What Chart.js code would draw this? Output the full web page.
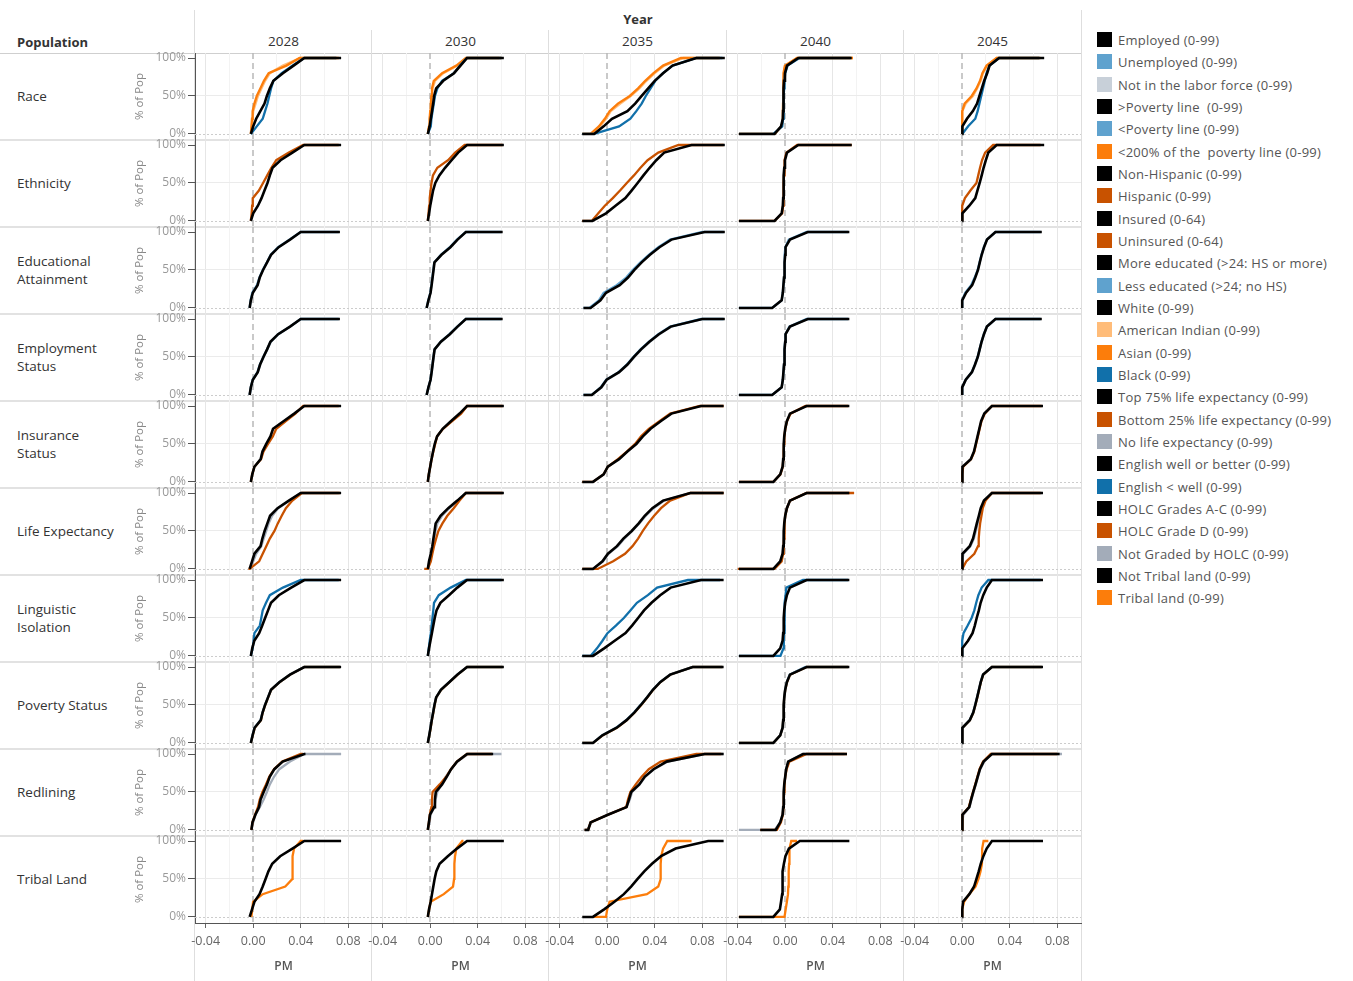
<!DOCTYPE html>
<html>
<head>
<meta charset="utf-8">
<title>PM by population and year</title>
<script src="https://cdn.jsdelivr.net/npm/chart.js@4.4.0/dist/chart.umd.min.js"></script>
<style>
  body { margin: 0; background: #fff; font-family: "Open Sans", sans-serif; }
  #wrap { position: relative; width: 1353px; height: 981px; overflow: hidden; }
  #wrap canvas { position: absolute; }
  .txt { position: absolute; color: #333; font-size: 13.5px; white-space: pre; }
  .hline, .vline { position: absolute; background: #dedede; }
  .leg { position: absolute; left: 1097px; height: 16px; font-size: 13px; letter-spacing: 0.25px; color: #555; white-space: pre; line-height: 16px; }
  .leg i { display: inline-block; width: 15px; height: 15px; vertical-align: top; margin-right: 6px; }
</style>
</head>
<body>
<div id="wrap"></div>
<script>
// ==========================
// CDF of PM change, by population group and year
// ==========================

const YEARS = ['2028', '2030', '2035', '2040', '2045'];
// share of population (y) for every value in a curve row
const LEVELS = [0, 0, 0.1, 0.2, 0.3, 0.4, 0.5, 0.6, 0.7, 0.8, 0.9, 1, 1];
const X_TICKS = [-0.04, -0.02, 0, 0.02, 0.04, 0.06, 0.08];
const Y_TICKS = [0, 0.5, 1];

// PM values (x 1000), one curve per year: start, leaves 0%, 10% .. 90%, reaches 100%, end
const white = [
  [-2, -2, 0, 2.5, 6, 9.5, 11.5, 14, 17, 25, 34, 43, 74],
  [-2, -2, -0.5, 0.5, 1.5, 2.5, 3.3, 5, 11, 20, 25.5, 31, 62],
  [-21, -11, -3, 4, 17, 23.5, 29, 34.5, 40, 47, 55, 75, 99],
  [-39, -9, -3.5, -2, -1.8, -1.6, -1.4, -1.2, -1, -0.2, 1.5, 11, 56],
  [0, 0, 0.3, 4, 9, 12.5, 14.5, 16.5, 18.5, 21, 23, 31, 69]
];
const americanIndian = [
  [-2, -2, -1, -0.5, 0, 2, 4, 7, 10, 14, 25, 40, 70],
  [-2, -2, -1, -0.3, 0.3, 0.8, 1.3, 2, 4, 11, 23, 31, 58],
  [-21, -13, -6, -1, 3, 11, 20, 27, 33, 40, 48, 64, 94],
  [-39, -9, -3, -2, -1.9, -1.8, -1.6, -1.5, -1.3, -1, 0, 10, 57],
  [0, 0, 0, 0, 0.5, 3, 9, 12.5, 15.5, 17.5, 21, 29, 66]
];
const asian = [
  [-2, -2, -1.5, -1, -0.5, 1, 3, 6, 9, 13, 28, 39, 72],
  [-2, -2, -1, -0.5, 0, 0.5, 1, 1.5, 3, 10, 22, 30, 60],
  [-21, -14, -7, -2, 2, 9, 19, 26, 32, 39, 47, 62, 95],
  [-39, -9, -3, -2, -1.9, -1.8, -1.7, -1.6, -1.4, -1.1, -0.3, 10, 57],
  [0, 0, 0, 0, 0, 2, 8, 12, 15, 17, 20.5, 29, 65]
];
const blackPop = [
  [-2, -2, 3, 8, 10, 12, 13.5, 15, 17, 24, 33, 43, 70],
  [-2, -2, 0.5, 1, 2, 3, 4, 6, 10, 20, 25, 31, 60],
  [-21, -11, 10, 19.5, 24.5, 29, 32.5, 36.5, 40.5, 47, 55, 75, 97],
  [-39, -10, -2.5, -1.8, -1.5, -1.3, -1.1, -0.9, -0.6, 0, 2, 12, 55],
  [0, 0, 5, 11, 13, 14.5, 16, 17.5, 19, 20.5, 23, 31, 65]
];

const nonHispanic = [
  [-2, -2, 0, 4, 7, 9.5, 12, 14, 16.3, 23, 33, 43, 74],
  [-2, -2, -1, 0, 1.2, 2.4, 4.3, 7.7, 12.5, 18, 23.5, 31, 62],
  [-21, -12.5, -1, 7, 15.3, 20.5, 25.6, 30.5, 35.7, 41.3, 48, 71, 99],
  [-39, -9, -3, -2, -1.7, -1.5, -1.3, -1.1, -0.8, -0.2, 1.5, 11, 56],
  [0, 0, 0.3, 6, 11, 12.8, 14.7, 16.4, 18, 19.9, 22, 29, 69]
];
const hispanic = [
  [-2, -2, -1.3, -0.9, -0.4, 4.8, 8.3, 11.8, 15.3, 19.4, 30, 42, 72],
  [-2, -2, -1.4, -0.9, -0.4, 0.3, 1.1, 2.3, 6, 15, 21, 29, 61],
  [-21, -13, -7.5, -2, 4.7, 10.8, 16.5, 22.5, 28, 34, 43, 60, 98],
  [-39, -9, -2.5, -1.8, -1.5, -1.4, -1.2, -1, -0.8, -0.3, 1, 10, 56],
  [0, 0, 0, 0, 2.3, 6.9, 12, 13.5, 15, 16.7, 19.3, 26, 66]
];

const moreEducated = [
  [-3, -3, -2, -0.3, 3.7, 5.5, 8.3, 11.7, 15, 21.4, 31, 40, 73],
  [-3, -3, -1.5, 0.3, 1.2, 2, 2.8, 3.6, 9.5, 17, 23, 30, 61],
  [-20, -14, -5.7, -1, 10.5, 17.5, 22.9, 29, 36, 44, 54, 82, 99],
  [-39, -11, -3, -2, -1.5, -1, -0.7, -0.4, 0, 0.3, 4, 19, 54],
  [0, 0, 0, 3.3, 8.4, 11, 13.3, 14.8, 16.4, 18.4, 20.9, 28, 67]
];
const lessEducated = [
  [-3, -3, -2.2, -0.8, 3.2, 5.2, 8, 11.5, 14.8, 21, 30.5, 40, 72],
  [-3, -3, -1.6, 0.1, 1, 1.8, 2.6, 3.4, 9, 16.5, 22.5, 30, 60],
  [-20, -15, -7, -3, 8, 16, 21.5, 28, 35, 43, 53, 80, 98],
  [-39, -11, -3, -2, -1.5, -1, -0.7, -0.5, -0.2, 0.1, 3, 18, 53],
  [0, 0, 0, 2.5, 7.5, 10.5, 13, 14.6, 16.2, 18.2, 20.7, 28, 66]
];

const employed = [
  [-3, -3, -2, -0.3, 3.8, 5.8, 8.6, 11.7, 14.5, 21, 31, 40, 73],
  [-3, -3, -1.5, 0.3, 1.2, 2, 2.8, 3.7, 9, 16.5, 23, 30, 61],
  [-20, -13, -5, -0.5, 10, 17, 22.5, 28.5, 35.5, 43.5, 53.5, 80, 99],
  [-39, -11, -3, -2, -1.5, -1, -0.7, -0.4, 0, 0.3, 4, 19, 54],
  [0, 0, 0, 3, 8.2, 10.8, 13.1, 14.7, 16.3, 18.3, 20.8, 28, 67]
];
const unemployed = [
  [-3, -3, -2, -0.5, 3.6, 5.6, 8.5, 11.6, 14.6, 21, 31, 40, 72],
  [-3, -3, -1.5, 0.2, 1.1, 1.9, 2.7, 3.6, 8.8, 16.2, 22.8, 30, 60],
  [-20, -13, -5.5, -1, 9.5, 16.5, 22, 28, 35, 43, 53, 79, 98],
  [-39, -11, -3, -2, -1.5, -1, -0.7, -0.45, -0.1, 0.2, 3.5, 18, 53],
  [0, 0, 0, 2.8, 8, 10.6, 13, 14.6, 16.2, 18.2, 20.7, 28, 66]
];
const notInLabor = [
  [-3, -3, -2, -0.2, 4, 6, 8.8, 11.9, 15, 21.3, 31, 40, 72],
  [-3, -3, -1.4, 0.4, 1.3, 2.1, 2.9, 3.8, 9.2, 16.8, 23, 30, 60],
  [-20, -13, -4.5, 0, 10.5, 17.5, 23, 29, 36, 44, 54, 80, 98],
  [-39, -11, -3, -2, -1.5, -1, -0.7, -0.4, 0, 0.3, 4, 19, 53],
  [0, 0, 0, 3.2, 8.4, 11, 13.3, 14.8, 16.4, 18.4, 21, 28, 66]
];

const insured = [
  [-2, -2, -0.8, 1, 6.3, 7.8, 11, 14.5, 16.7, 25.5, 34.5, 43, 74],
  [-2, -2, -1.2, 0, 1.1, 2.4, 3.8, 5.8, 10.5, 17.4, 24.7, 31, 62],
  [-21, -12, -3, 0.5, 10, 17, 24.5, 30, 36.5, 45, 54, 79, 98],
  [-39, -10, -4.2, -2.2, -1.7, -1.4, -1.1, -0.8, 0, 1.4, 4, 18, 54],
  [0, 0, 0, 0.6, 7.2, 9.9, 11.4, 12.9, 14.4, 15.9, 18.6, 25, 68]
];
const uninsured = [
  [-2, -2, -0.8, 1, 6.6, 8.6, 12.5, 16.5, 19.4, 27.5, 35.5, 42, 72],
  [-2, -2, -1.2, 0, 1.2, 2.6, 4.2, 5.8, 10.8, 18.5, 26, 31, 61],
  [-21, -12, -3, 0.5, 9, 16.5, 23.5, 28.5, 35, 44, 53, 78, 98],
  [-39, -10, -4, -2.1, -1.6, -1.3, -1, -0.7, 0.1, 1.5, 4.5, 17, 53],
  [0, 0, 0, 0.8, 7.5, 10.2, 11.7, 13.2, 14.7, 16.2, 19, 25, 67]
];

const top75 = [
  [-3, -3, -1, 1, 6.2, 7.7, 9.6, 11.9, 14.2, 20.5, 30, 40, 74],
  [-2, -2, -1, 0.5, 1.8, 2.7, 3.7, 4.6, 8.7, 15.2, 22.8, 30, 62],
  [-21, -12, -4, 0.6, 8.2, 13.6, 20.6, 26.5, 31.6, 38, 47, 70, 98],
  [-39, -10, -4.2, -2.2, -1.7, -1.4, -1.1, -0.8, 0, 1.4, 4, 18, 54],
  [0, 0, 0, 0.6, 6.3, 9.1, 10.7, 12.3, 14, 15.6, 18.3, 25, 68]
];
const bottom25 = [
  [-4, -3, 5, 8, 11, 14, 17.9, 20.7, 24, 27.5, 33, 41, 73],
  [-5, -2, 0.5, 1.8, 3.2, 5, 6.9, 10.3, 14.4, 19.8, 24.7, 30, 61],
  [-21, -8, 5, 15, 21.3, 26, 30, 34.4, 39.5, 45.3, 53, 70, 98],
  [-40, -9, -3, -1.8, -1.3, -1, -0.7, -0.4, 0, 1.5, 4, 18, 58],
  [0, 0, 3.4, 10.2, 13.3, 13.9, 14.4, 15.1, 16.2, 17.3, 19.7, 25, 66]
];
const noLife = [
  [-3, -3, 0, 2.5, 6.8, 8.8, 11, 13, 16, 21, 30.5, 40, 72],
  [-2, -2, -0.6, 0.8, 2.2, 3.3, 4.5, 6, 10, 16, 23.5, 30, 61],
  [-21, -12, -3.5, 1, 9, 14.5, 21, 27, 32.5, 39, 48, 70, 98],
  [-39, -10, -4, -2.1, -1.6, -1.3, -1, -0.7, 0, 1.4, 4, 18, 54],
  [0, 0, 0, 1, 7, 9.8, 11.5, 13, 14.6, 16.2, 18.8, 25, 67]
];

const englishWell = [
  [-2, -2, -0.8, 0.9, 5, 7.6, 10, 12.5, 15, 21.6, 32, 43, 74],
  [-2, -2, -1, 0.2, 1.4, 2.6, 3.8, 5.3, 8.6, 15.8, 22.8, 31, 62],
  [-21, -12, -2.6, 6.3, 15.4, 20.9, 26, 31, 37.3, 44.6, 53.4, 79, 98],
  [-39, -10, -4.2, -2.2, -1.7, -1.4, -1.1, -0.8, 0, 1.4, 4, 18, 54],
  [0, 0, 0.2, 4.9, 8.7, 10.6, 12.2, 14, 15.5, 17.7, 20.6, 25, 68]
];
const englishLess = [
  [-2, -2, -0.5, 0.4, 1, 5.6, 6.8, 8, 10.8, 14, 25, 40, 72],
  [-2, -2, -1.2, -0.4, 0.5, 1.2, 1.9, 2.6, 3.2, 7.2, 17.2, 30, 60],
  [-21, -14, -8.6, -4, 0.2, 7.3, 14, 19.5, 25, 34.2, 42, 68, 95],
  [-39, -4, -1.5, -1.2, -1, -0.8, -0.6, -0.4, -0.2, 0.3, 1, 15, 53],
  [0, 0, 0, 0, 1.1, 4.6, 7.9, 10.2, 11.8, 13.6, 16.4, 22, 66]
];

const abovePoverty = [
  [-2, -2, -0.5, 1.2, 6.4, 7.9, 10, 12.5, 15, 22, 31, 43, 74],
  [-2, -2, -0.8, 0.3, 1.3, 2.5, 3.6, 5, 9, 16, 23, 31, 62],
  [-21, -12, -4, 8, 16.3, 22.8, 28.4, 33.6, 38.5, 44.6, 53, 72, 98],
  [-39, -10, -4.2, -2.2, -1.7, -1.4, -1.1, -0.8, 0, 1.4, 4, 18, 54],
  [0, 0, 0, 0.5, 6.4, 9.3, 11, 12.6, 14.1, 15.6, 17.6, 25, 68]
];
const belowPoverty = [
  [-2, -2, -0.6, 1, 6.2, 7.8, 9.9, 12.4, 15, 22, 31, 43, 73],
  [-2, -2, -0.8, 0.2, 1.2, 2.4, 3.5, 5, 9, 16, 23, 31, 61],
  [-21, -12, -4.5, 7.5, 16, 22.5, 28, 33.4, 38.4, 44.5, 53, 72, 97],
  [-39, -10, -4.2, -2.2, -1.7, -1.4, -1.1, -0.8, -0.1, 1.3, 3.8, 17, 53],
  [0, 0, 0, 0.4, 6.2, 9.2, 10.9, 12.5, 14, 15.5, 17.5, 25, 67]
];
const below200 = [
  [-2, -2, -0.4, 1.3, 6.5, 8, 10.1, 12.6, 15.1, 22.2, 31.2, 43, 73],
  [-2, -2, -0.7, 0.4, 1.4, 2.6, 3.7, 5.1, 9.2, 16.2, 23.2, 31, 61],
  [-21, -12, -3.8, 8.2, 16.5, 23, 28.6, 33.8, 38.7, 44.8, 53.2, 72, 97],
  [-39, -10, -4.1, -2.2, -1.7, -1.4, -1.1, -0.8, 0, 1.5, 4.1, 18, 53],
  [0, 0, 0, 0.6, 6.5, 9.4, 11.1, 12.7, 14.2, 15.7, 17.7, 25, 67]
];

const holcAC = [
  [-1.5, -1.5, -0.6, 1.8, 4.9, 6.2, 8.8, 11.6, 13.9, 17.8, 24.8, 43, 44],
  [-2, -2, -1.1, -0.2, 3.3, 4, 4.7, 10, 13.9, 17.6, 22.5, 31, 53],
  [-19, -16, -14, 0.6, 16.3, 18.3, 20.2, 27, 31.5, 39, 50, 82, 98],
  [-21, -8, -4.2, -2.2, -1.7, -1.4, -1.1, -0.8, 0, 0.8, 2.5, 15, 52],
  [0, 0, 0, 0.6, 5.9, 7.5, 9.3, 11.2, 13, 14.9, 18, 25, 82]
];
const holcD = [
  [-1.5, -1.5, -0.6, 1.6, 4, 5.5, 7.8, 10.8, 13.5, 17.5, 24.5, 40, 42],
  [-2, -2, -1.1, -0.3, 1, 1.5, 2, 8, 13.5, 17.5, 22.5, 31, 52],
  [-19, -16, -14, 0.6, 16, 17.5, 19.5, 24, 29, 35, 45, 75, 96],
  [-21, -7, -3.6, -2, -1.5, -1.2, -0.9, -0.6, 0, 1.2, 3.5, 18, 52],
  [0, 0, 0, 0.5, 5.6, 7.3, 9.1, 11, 12.8, 14.6, 17.5, 24, 80]
];
const notGraded = [
  [-1.5, -1.5, 0, 2, 5.5, 8.8, 11.5, 14, 17.5, 22, 31, 43, 74],
  [-2, -2, -0.5, 0.3, 3.5, 4.5, 6, 9.5, 13, 17.5, 23, 32, 60],
  [-20, -17, -13, 0, 16, 19, 21, 27.5, 32, 39.5, 51, 82, 98],
  [-39, -9, -4.2, -2.2, -1.7, -1.4, -1.1, -0.8, 0, 0.8, 2.5, 15, 50],
  [0, 0, 0, 1, 6.2, 7.8, 9.6, 11.5, 13.3, 15.2, 18.5, 25, 84]
];

const notTribal = [
  [-3, -3, -1, 1, 5.3, 8, 10.4, 12.8, 16, 22.7, 33, 43, 74],
  [-2, -2, -1, 0.4, 1.5, 2.6, 3.7, 5.1, 7.9, 14.8, 22.5, 31, 62],
  [-21, -12, -2.6, 6.1, 14, 20.1, 25.6, 31.2, 37.7, 45.3, 57.6, 85, 98],
  [-39, -10, -4.5, -3.5, -2.55, -2.4, -2.2, -2.05, -1.1, 0.2, 3.1, 12.3, 54],
  [0, 0, 0.2, 0.7, 6, 10, 12, 13.9, 15.6, 17.8, 20.6, 25, 68]
];
const tribal = [
  [-1.5, -1.5, -0.8, -0.1, 8, 27, 33, 33, 33, 33.4, 34.4, 40, 42],
  [-2, -2, -0.9, 0.4, 11.4, 19.2, 20.1, 20.3, 20.4, 20.9, 22, 27, 28],
  [-12, -1, 0, 2, 33.4, 43, 45, 45, 45, 45.5, 47, 50.6, 71],
  [-39, -0.6, 0.4, 1.4, 2.35, 2.6, 2.8, 3.05, 3.25, 3.45, 3.7, 5.1, 10],
  [0, 0, 0, 1.6, 5.9, 11.2, 13.7, 15.4, 16.6, 16.7, 16.8, 18, 22]
];

// series: legend name, colour, curves
const S = {
  employed:     ['Employed (0-99)', '#000000', employed],
  unemployed:   ['Unemployed (0-99)', '#5fa2ce', unemployed],
  notInLabor:   ['Not in the labor force (0-99)', '#c8d0d9', notInLabor],
  abovePov:     ['>Poverty line  (0-99)', '#000000', abovePoverty],
  belowPov:     ['<Poverty line (0-99)', '#5fa2ce', belowPoverty],
  below200:     ['<200% of the  poverty line (0-99)', '#fc7d0b', below200],
  nonHispanic:  ['Non-Hispanic (0-99)', '#000000', nonHispanic],
  hispanic:     ['Hispanic (0-99)', '#c85200', hispanic],
  insured:      ['Insured (0-64)', '#000000', insured],
  uninsured:    ['Uninsured (0-64)', '#c85200', uninsured],
  moreEd:       ['More educated (>24: HS or more)', '#000000', moreEducated],
  lessEd:       ['Less educated (>24; no HS)', '#5fa2ce', lessEducated],
  white:        ['White (0-99)', '#000000', white],
  amInd:        ['American Indian (0-99)', '#ffbc79', americanIndian],
  asian:        ['Asian (0-99)', '#fc7d0b', asian],
  black:        ['Black (0-99)', '#1170aa', blackPop],
  top75:        ['Top 75% life expectancy (0-99)', '#000000', top75],
  bottom25:     ['Bottom 25% life expectancy (0-99)', '#c85200', bottom25],
  noLife:       ['No life expectancy (0-99)', '#a3acb9', noLife],
  engWell:      ['English well or better (0-99)', '#000000', englishWell],
  engLess:      ['English < well (0-99)', '#1170aa', englishLess],
  holcAC:       ['HOLC Grades A-C (0-99)', '#000000', holcAC],
  holcD:        ['HOLC Grade D (0-99)', '#c85200', holcD],
  notGraded:    ['Not Graded by HOLC (0-99)', '#a3acb9', notGraded],
  notTribal:    ['Not Tribal land (0-99)', '#000000', notTribal],
  tribal:       ['Tribal land (0-99)', '#fc7d0b', tribal]
};

const ROW_LABELS = ['Race', 'Ethnicity', 'Educational\nAttainment', 'Employment\nStatus', 'Insurance\nStatus',
  'Life Expectancy', 'Linguistic\nIsolation', 'Poverty Status', 'Redlining', 'Tribal Land'];
// first series of a row is drawn on top
const ROW_SERIES = [
  ['white', 'black', 'asian', 'amInd'],
  ['nonHispanic', 'hispanic'],
  ['moreEd', 'lessEd'],
  ['employed', 'unemployed', 'notInLabor'],
  ['insured', 'uninsured'],
  ['top75', 'bottom25', 'noLife'],
  ['engWell', 'engLess'],
  ['abovePov', 'belowPov', 'below200'],
  ['holcAC', 'holcD', 'notGraded'],
  ['notTribal', 'tribal']
];

// layout
const COL_X = [195, 372, 549, 727, 904];
const PANEL_W = 177, PANEL_H = 87, TOP = 53;
const AXIS_W = 65, AXIS_H = 57, PAD = 8;
const X_MIN = -0.049, X_MAX = 0.1, Y_MIN = -0.08, Y_MAX = 1.066;

const wrap = document.getElementById('wrap');

function addEl(cls, css, text) {
  const d = document.createElement('div');
  d.className = cls;
  Object.assign(d.style, css);
  if (text !== undefined) d.textContent = text;
  wrap.appendChild(d);
  return d;
}

// separators
addEl('hline', { left: '0px', top: TOP + 'px', width: '1082px', height: '1px', background: '#cfcfcf' });
for (let r = 1; r < ROW_LABELS.length; r++) {
  addEl('hline', { left: '0px', top: (TOP + r * PANEL_H - 1) + 'px', width: '1082px', height: '2px', background: '#e2e2e2' });
}
addEl('vline', { left: '194px', top: '10px', width: '1px', height: '971px' });
COL_X.slice(1).forEach(x => addEl('vline', { left: (x - 1) + 'px', top: '30px', width: '1px', height: '951px' }));
addEl('vline', { left: '1081px', top: '10px', width: '1px', height: '971px' });

// headers
addEl('txt', { left: '594px', width: '88px', textAlign: 'center', top: '10px', fontWeight: '700', fontSize: '13px' }, 'Year');
addEl('txt', { left: '17px', top: '33px', fontWeight: '700', fontSize: '13px' }, 'Population');
YEARS.forEach((y, c) => addEl('txt', { left: COL_X[c] + 'px', width: PANEL_W + 'px', textAlign: 'center', top: '32px' }, y));
ROW_LABELS.forEach((lab, r) => {
  const lines = lab.split('\n').length;
  addEl('txt', { left: '17px', top: (TOP + r * PANEL_H + 43 - lines * 9) + 'px', lineHeight: '18px' }, lab);
});

// legend
Object.values(S).forEach(([name, color], i) => {
  const d = addEl('leg', { top: (32 + i * 22.33) + 'px' });
  d.innerHTML = '<i style="background:' + color + '"></i>';
  d.appendChild(document.createTextNode(name));
});

// dashed zero line and dotted 0% line
const refLines = {
  id: 'refLines',
  beforeDatasetsDraw(chart) {
    const { ctx, chartArea: a, scales: { x, y } } = chart;
    ctx.save();
    ctx.strokeStyle = '#cccccc';
    ctx.lineWidth = 1;
    ctx.setLineDash([2, 2]);
    const y0 = Math.round(y.getPixelForValue(0)) + 0.5;
    ctx.beginPath(); ctx.moveTo(a.left, y0); ctx.lineTo(a.right, y0); ctx.stroke();
    ctx.strokeStyle = '#b8b8b8';
    ctx.lineWidth = 1.5;
    ctx.setLineDash([6, 4]);
    const x0 = Math.round(x.getPixelForValue(0));
    ctx.beginPath(); ctx.moveTo(x0, a.top); ctx.lineTo(x0, a.bottom); ctx.stroke();
    ctx.restore();
  }
};

const isMajor = v => Math.round(v * 100) % 4 === 0;

function makePanel(r, c) {
  const first = c === 0, last = r === ROW_LABELS.length - 1;
  const cv = document.createElement('canvas');
  const w = PANEL_W + (first ? AXIS_W : 0) + 2 * PAD;
  const h = PANEL_H + (last ? AXIS_H : 0) + 2 * PAD;
  cv.width = w; cv.height = h;
  cv.style.width = w + 'px'; cv.style.height = h + 'px';
  cv.style.left = (COL_X[c] - (first ? AXIS_W : 0) - PAD) + 'px';
  cv.style.top = (TOP + r * PANEL_H - PAD) + 'px';
  wrap.appendChild(cv);

  const datasets = ROW_SERIES[r].map(key => {
    const [name, color, curves] = S[key];
    return {
      label: name,
      data: curves[c].map((v, i) => ({ x: v / 1000, y: LEVELS[i] })),
      borderColor: color,
      borderWidth: color === '#000000' ? 2.6 : 2.3,
      pointRadius: 0,
      tension: 0,
      fill: false
    };
  });

  new Chart(cv, {
    type: 'line',
    data: { datasets },
    options: {
      responsive: false,
      animation: false,
      events: [],
      layout: { padding: PAD },
      plugins: { legend: { display: false }, tooltip: { enabled: false } },
      scales: {
        x: {
          type: 'linear', min: X_MIN, max: X_MAX,
          afterBuildTicks: ax => { ax.ticks = X_TICKS.map(v => ({ value: v })); },
          afterFit: ax => { ax.height = last ? AXIS_H : 0; ax.paddingLeft = 0; ax.paddingRight = 0; },
          grid: {
            color: ctx => Math.abs(ctx.tick.value) < 1e-9 ? 'rgba(0,0,0,0)' : (isMajor(ctx.tick.value) ? '#e6e6e6' : '#f3f3f3'),
            drawTicks: last, tickLength: 5,
            tickColor: ctx => isMajor(ctx.tick.value) ? '#666' : 'rgba(0,0,0,0)'
          },
          border: { display: last, color: '#555', width: 1 },
          ticks: {
            display: last, padding: 6, color: '#666', maxRotation: 0, autoSkip: false,
            font: { family: 'Open Sans', size: 12.5 },
            callback: v => isMajor(v) ? v.toFixed(2) : ''
          },
          title: {
            display: last, text: 'PM', color: '#555',
            font: { family: 'Open Sans', size: 12, weight: '600' }, padding: { top: 0, bottom: 6 }
          }
        },
        y: {
          min: Y_MIN, max: Y_MAX,
          afterBuildTicks: ax => { ax.ticks = Y_TICKS.map(v => ({ value: v })); },
          afterFit: ax => { ax.width = first ? AXIS_W : 0; ax.paddingTop = 0; ax.paddingBottom = 0; },
          grid: {
            color: ctx => ctx.tick.value === 0.5 ? '#ebebeb' : 'rgba(0,0,0,0)',
            drawTicks: first, tickLength: 7, tickColor: '#555'
          },
          border: { display: first, color: '#555', width: 1 },
          ticks: {
            display: first, padding: 2, color: '#999',
            font: { family: 'Open Sans', size: 12 },
            callback: v => Math.round(v * 100) + '%'
          },
          title: {
            display: first, text: '% of Pop', color: '#888',
            font: { family: 'Open Sans', size: 11.5 }, padding: { top: 3, bottom: 0 }
          }
        }
      }
    },
    plugins: [refLines]
  });
}

for (let r = 0; r < ROW_LABELS.length; r++) {
  for (let c = 0; c < YEARS.length; c++) makePanel(r, c);
}
</script>
</body>
</html>
